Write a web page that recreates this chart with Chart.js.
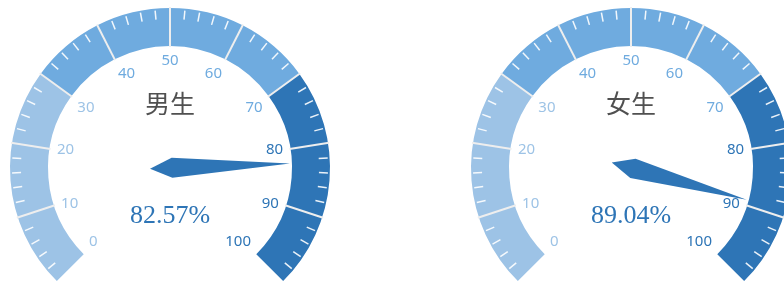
<!DOCTYPE html>
<html>
<head>
<meta charset="utf-8">
<script src="https://cdn.jsdelivr.net/npm/chart.js@4/dist/chart.umd.min.js"></script>
<style>
  html, body { margin: 0; padding: 0; background: #ffffff; overflow: hidden; width: 784px; height: 284px; }
  .g { position: absolute; top: 0; width: 340px; height: 284px; }
  #g0 { left: 0px; }
  #g1 { left: 461px; }
</style>
</head>
<body>
<div class="g" id="g0"><canvas id="c0" width="340" height="284"></canvas></div>
<div class="g" id="g1"><canvas id="c1" width="340" height="284"></canvas></div>
<script>
// ---- data ----
const gaugeTitles = ['男生', '女生'];
const gaugeValues = [82.57, 89.04];
const bandEnds = [30, 70, 100];
const tickLabels = [0, 10, 20, 30, 40, 50, 60, 70, 80, 90, 100];
const axisMin = 0;
const axisMax = 100;

// ---- style ----
const bandColors = ['#9dc3e6', '#6fabdf', '#2e75b6'];

function bandSizes() {
  const out = [];
  let prev = axisMin;
  for (const e of bandEnds) { out.push(e - prev); prev = e; }
  return out;
}
function colorFor(v) {
  for (let i = 0; i < bandEnds.length; i++) if (v <= bandEnds[i]) return bandColors[i];
  return bandColors[bandColors.length - 1];
}

const gaugePlugin = {
  id: 'gaugeDecor',
  afterDatasetsDraw(chart, args, opts) {
    const ctx = chart.ctx;
    const arcs = chart.getDatasetMeta(0).data;
    const first = arcs[0], last = arcs[arcs.length - 1];
    const cx = first.x, cy = first.y;
    const R = first.outerRadius, r = first.innerRadius;
    const a0 = first.startAngle, a1 = last.endAngle;
    const ang = v => a0 + (v - axisMin) / (axisMax - axisMin) * (a1 - a0);
    ctx.save();
    // minor ticks
    ctx.strokeStyle = 'rgba(255,255,255,0.9)';
    ctx.lineWidth = 1.5;
    for (let v = axisMin; v <= axisMax; v += 2) {
      if (v % 10 === 0) continue;
      const a = ang(v);
      ctx.beginPath();
      ctx.moveTo(cx + (R - 2) * Math.cos(a), cy + (R - 2) * Math.sin(a));
      ctx.lineTo(cx + (R - 11) * Math.cos(a), cy + (R - 11) * Math.sin(a));
      ctx.stroke();
    }
    // split lines
    ctx.strokeStyle = '#eeeeee';
    ctx.lineWidth = 2;
    for (const v of tickLabels) {
      if (v === axisMin || v === axisMax) continue;
      const a = ang(v);
      ctx.beginPath();
      ctx.moveTo(cx + (R + 1) * Math.cos(a), cy + (R + 1) * Math.sin(a));
      ctx.lineTo(cx + (r - 1) * Math.cos(a), cy + (r - 1) * Math.sin(a));
      ctx.stroke();
    }
    // labels
    ctx.font = '15px "Noto Sans", "Open Sans", sans-serif';
    const lr = r - 7.5;
    for (const v of tickLabels) {
      const a = ang(v);
      const ux = Math.cos(a), uy = Math.sin(a);
      ctx.fillStyle = colorFor(v);
      ctx.textAlign = ux < -0.4 ? 'left' : (ux > 0.4 ? 'right' : 'center');
      ctx.textBaseline = uy < -0.4 ? 'top' : (uy > 0.4 ? 'bottom' : 'middle');
      ctx.fillText(String(v), cx + lr * ux, cy + lr * uy);
    }
    ctx.textAlign = 'center';
    ctx.textBaseline = 'middle';
    // title
    ctx.fillStyle = '#505050';
    ctx.font = '25px "Noto Sans CJK SC", sans-serif';
    ctx.fillText(opts.title, cx, cy - 0.4 * R);
    // needle
    const val = opts.value;
    const a = ang(val);
    const dx = Math.cos(a), dy = Math.sin(a);
    const px = -dy, py = dx;
    const tipL = r - 2, back = 20, half = 10, mid = 2;
    ctx.fillStyle = colorFor(val);
    ctx.beginPath();
    ctx.moveTo(cx - back * dx, cy - back * dy);
    ctx.lineTo(cx + mid * dx + half * px, cy + mid * dy + half * py);
    ctx.lineTo(cx + tipL * dx, cy + tipL * dy);
    ctx.lineTo(cx + mid * dx - half * px, cy + mid * dy - half * py);
    ctx.closePath();
    ctx.fill();
    // value
    ctx.fillStyle = colorFor(val);
    ctx.font = '26px "Liberation Serif", "Times New Roman", serif';
    ctx.fillText(val.toFixed(2) + '%', cx, cy + 0.3 * R);
    ctx.restore();
  }
};

function makeGauge(id, idx) {
  return new Chart(document.getElementById(id), {
    type: 'doughnut',
    data: {
      labels: bandEnds.map(String),
      datasets: [{
        data: bandSizes(),
        backgroundColor: bandColors,
        borderWidth: 0
      }]
    },
    options: {
      responsive: false,
      animation: false,
      events: [],
      rotation: -135,
      circumference: 270,
      radius: 160,
      cutout: '76.25%',
      layout: { padding: { top: 5, bottom: 0, left: 0, right: 0 } },
      plugins: {
        legend: { display: false },
        tooltip: { enabled: false },
        gaugeDecor: { title: gaugeTitles[idx], value: gaugeValues[idx] }
      }
    },
    plugins: [gaugePlugin]
  });
}
makeGauge('c0', 0);
makeGauge('c1', 1);
</script>
</body>
</html>
